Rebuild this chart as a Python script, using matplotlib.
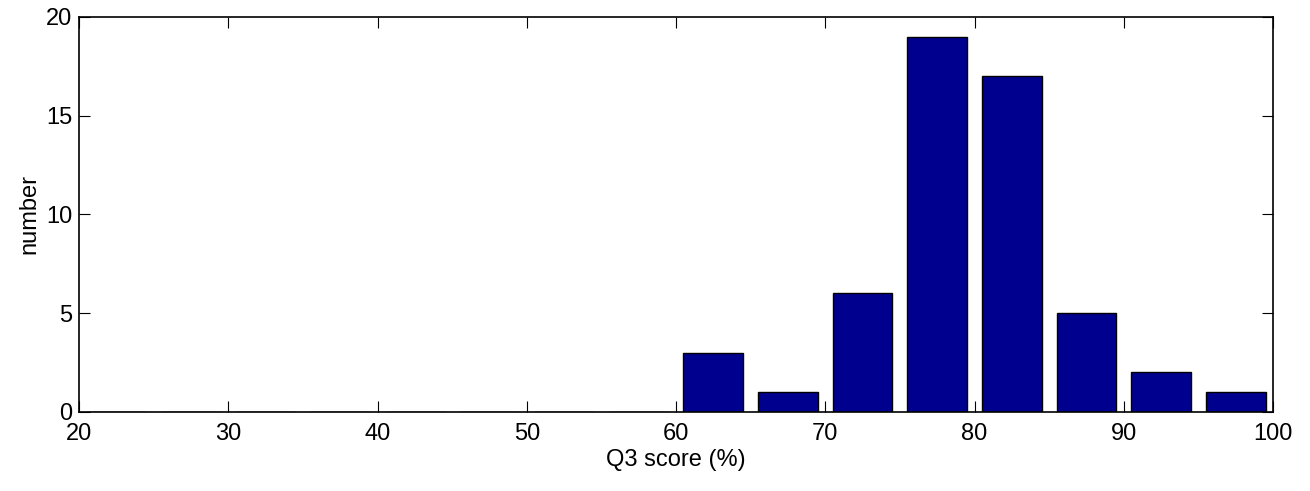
import numpy as np
import matplotlib
matplotlib.use('Agg')
import matplotlib.pyplot as plt

plt.rcParams['font.family'] = ['Liberation Sans', 'DejaVu Sans']

# bin centres and counts of the Q3 score histogram
bin_centers = [22.5, 27.5, 32.5, 37.5, 42.5, 47.5, 52.5, 57.5,
               62.5, 67.5, 72.5, 77.5, 82.5, 87.5, 92.5, 97.5]
counts = [0, 0, 0, 0, 0, 0, 0, 0, 3, 1, 6, 19, 17, 5, 2, 1]
x_ticks = [20, 30, 40, 50, 60, 70, 80, 90, 100]
y_ticks = [0, 5, 10, 15, 20]

fig = plt.figure(figsize=(13.1, 4.91), dpi=100)
ax = fig.add_axes([0.0603, 0.1609, 0.9115, 0.8045])

ax.bar(bin_centers, counts, width=4.0, color='#00008F',
       edgecolor='black', linewidth=1.0, zorder=2)

ax.set_xlim(20, 100)
ax.set_ylim(0, 20)
ax.set_xticks(x_ticks)
ax.set_yticks(y_ticks)
ax.tick_params(direction='in', length=8, width=0.8, labelsize=17,
               top=True, right=True)
ax.tick_params(axis='x', pad=8)
ax.tick_params(axis='y', pad=5)
for s in ax.spines.values():
    s.set_linewidth(1.2)

ax.set_xlabel('Q3 score (%)', fontsize=17, labelpad=3)
ax.set_ylabel('number', fontsize=17, labelpad=4)

fig.savefig('out.png', dpi=100)
